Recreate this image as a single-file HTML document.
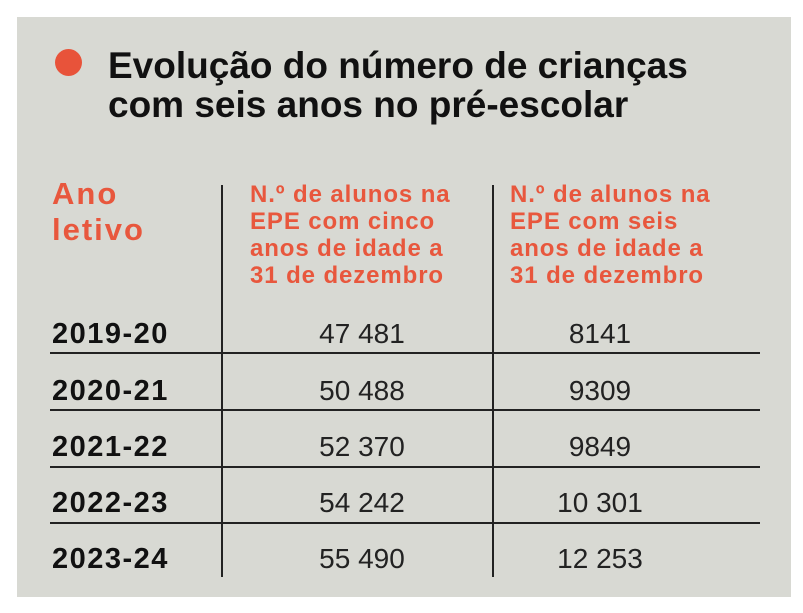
<!DOCTYPE html>
<html><head><meta charset="utf-8"><style>
body{margin:0;width:803px;height:613px;background:#fff;position:relative;overflow:hidden;font-family:"Liberation Sans",sans-serif}
#p{position:absolute;left:17px;top:17px;width:774px;height:580px;background:#d8d9d3}
.a{position:absolute;white-space:nowrap}
.t{font-weight:bold;font-size:37px;color:#111;left:108px;letter-spacing:0px}
.o{color:#e8573d;font-weight:bold}
.h{font-size:24px;line-height:27px;left:250px;top:181px;letter-spacing:0.9px}
.y{font-weight:bold;font-size:29px;color:#111;left:52px;letter-spacing:1.5px}
.n{font-size:28px;color:#222;width:200px;text-align:center}
.hl{position:absolute;left:50px;width:710px;height:2px;background:#222}
.vl{position:absolute;top:185px;height:392px;width:2px;background:#222}
</style></head><body>
<div id="p"></div>
<div class="a" style="left:55px;top:49px;width:27px;height:27px;border-radius:50%;background:#e8533a"></div>
<div class="a t" style="top:45px">Evolução do número de crianças</div>
<div class="a t" style="top:84px">com seis anos no pré-escolar</div>
<div class="a o" style="left:52px;top:176px;font-size:31px;line-height:36px;letter-spacing:2px">Ano<br>letivo</div>
<div class="a o h">N.º de alunos na<br>EPE com cinco<br>anos de idade a<br>31 de dezembro</div>
<div class="a o h" style="left:510px">N.º de alunos na<br>EPE com seis<br>anos de idade a<br>31 de dezembro</div>
<div class="vl" style="left:221px"></div>
<div class="vl" style="left:492px"></div>
<div class="hl" style="top:352px"></div>
<div class="hl" style="top:409px"></div>
<div class="hl" style="top:466px"></div>
<div class="hl" style="top:522px"></div>
<div class="a y" style="top:318px">2019-20</div>
<div class="a y" style="top:375px">2020-21</div>
<div class="a y" style="top:431px">2021-22</div>
<div class="a y" style="top:487px">2022-23</div>
<div class="a y" style="top:543px">2023-24</div>
<div class="a n" style="left:262px;top:318px">47 481</div>
<div class="a n" style="left:262px;top:375px">50 488</div>
<div class="a n" style="left:262px;top:431px">52 370</div>
<div class="a n" style="left:262px;top:487px">54 242</div>
<div class="a n" style="left:262px;top:543px">55 490</div>
<div class="a n" style="left:500px;top:318px">8141</div>
<div class="a n" style="left:500px;top:375px">9309</div>
<div class="a n" style="left:500px;top:431px">9849</div>
<div class="a n" style="left:500px;top:487px">10 301</div>
<div class="a n" style="left:500px;top:543px">12 253</div>
</body></html>
